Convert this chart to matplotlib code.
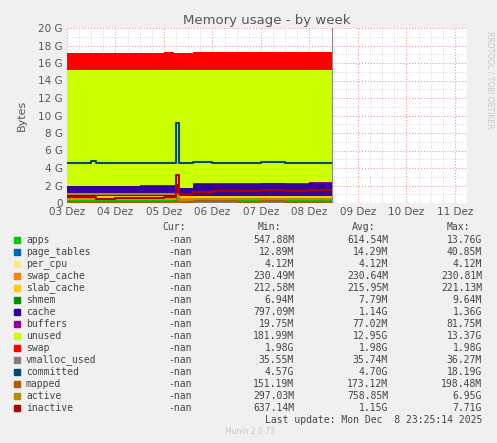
import matplotlib.pyplot as plt
from matplotlib.ticker import MultipleLocator

# time breakpoints (days since 03 Dez 00:00), values in GB
t = [0, 0.5, 0.6, 1.0, 1.5, 2.0, 2.2, 2.25, 2.3, 2.6, 3.0, 3.5, 4.0, 4.5, 5.0, 5.47]
apps =        [0.35, 0.35, 0.30, 0.32, 0.32, 0.32, 0.32, 0.55, 0.28, 0.28, 0.30, 0.30, 0.32, 0.30, 0.30, 0.30]
page_tables = [0.014] * 16
per_cpu =     [0.004] * 16
swap_cache =  [0.23] * 16
slab_cache =  [0.21, 0.21, 0.21, 0.21, 0.21, 0.21, 0.21, 0.22, 0.22, 0.22, 0.22, 0.22, 0.22, 0.22, 0.22, 0.22]
shmem =       [0.008] * 16
cache =       [1.10, 1.10, 1.15, 1.12, 1.18, 1.15, 1.15, 1.15, 0.95, 1.45, 1.45, 1.40, 1.45, 1.45, 1.50, 1.50]
buffers =     [0.08, 0.08, 0.08, 0.08, 0.08, 0.08, 0.08, 0.02, 0.02, 0.08, 0.08, 0.08, 0.08, 0.08, 0.08, 0.08]
unused =      [13.22, 13.22, 13.22, 13.23, 13.17, 13.21, 13.20, 12.99, 13.49, 12.95, 12.93, 12.98, 12.91, 12.94, 12.89, 12.89]
swap =        [1.98] * 16
vmalloc =     [0.036] * 16
committed =   [4.60, 4.75, 4.60, 4.60, 4.60, 4.60, 4.60, 9.20, 4.60, 4.65, 4.60, 4.60, 4.70, 4.55, 4.60, 4.60]
mapped =      [0.17, 0.17, 0.16, 0.17, 0.17, 0.17, 0.17, 0.19, 0.17, 0.18, 0.18, 0.17, 0.18, 0.17, 0.17, 0.17]
active =      [1.00, 1.00, 1.00, 1.00, 1.00, 1.00, 1.00, 1.00, 0.40, 0.45, 0.50, 0.50, 0.50, 0.50, 0.50, 0.50]
inactive =    [0.65, 0.65, 0.45, 0.60, 0.60, 0.65, 0.65, 3.20, 1.00, 1.30, 1.40, 1.40, 1.45, 1.40, 1.45, 1.45]

days = ["03 Dez", "04 Dez", "05 Dez", "06 Dez", "07 Dez", "08 Dez", "09 Dez", "10 Dez", "11 Dez"]
yticks = list(range(0, 21, 2))

names = ["apps", "page_tables", "per_cpu", "swap_cache", "slab_cache", "shmem", "cache",
         "buffers", "unused", "swap", "vmalloc_used", "committed", "mapped", "active", "inactive"]
colors = ["#00CC00", "#0066B3", "#FFE680", "#FF8000", "#FFCC00", "#008F00", "#330099",
          "#990099", "#CCFF00", "#FF0000", "#808080", "#00487D", "#B35A00", "#B38F00", "#B00000"]
mins = ["547.88M", "12.89M", "4.12M", "230.49M", "212.58M", "6.94M", "797.09M", "19.75M",
        "181.99M", "1.98G", "35.55M", "4.57G", "151.19M", "297.03M", "637.14M"]
avgs = ["614.54M", "14.29M", "4.12M", "230.64M", "215.95M", "7.79M", "1.14G", "77.02M",
        "12.95G", "1.98G", "35.74M", "4.70G", "173.12M", "758.85M", "1.15G"]
maxs = ["13.76G", "40.85M", "4.12M", "230.81M", "221.13M", "9.64M", "1.36G", "81.75M",
        "13.37G", "1.98G", "36.27M", "18.19G", "198.48M", "6.95G", "7.71G"]

fig = plt.figure(figsize=(4.97, 4.43), dpi=100, facecolor="#F0F0F0")
ax = fig.add_axes([67 / 497, 1 - 203 / 443, 400 / 497, 175 / 443])
ax.set_facecolor("white")

stack = [apps, page_tables, per_cpu, swap_cache, slab_cache, shmem, cache, buffers, unused, swap]
base = [0.0] * len(t)
for vals, c in zip(stack, colors[:10]):
    top = [b + v for b, v in zip(base, vals)]
    ax.fill_between(t, base, top, step="post", color=c, lw=0, zorder=2)
    base = top

for vals, c in zip([vmalloc, committed, mapped, active, inactive], colors[10:]):
    ax.step(t, vals, where="post", color=c, lw=1.5, zorder=3)

ax.axvline(5.47, color="#888888", lw=0.8, zorder=4)
ax.set_xlim(0, 8.25)
ax.set_ylim(0, 20)
ax.set_xticks(range(9))
ax.set_xticklabels(days)
ax.set_yticks(yticks)
ax.set_yticklabels(["0"] + ["%d G" % v for v in yticks[1:]])
ax.xaxis.set_minor_locator(MultipleLocator(0.25))
ax.yaxis.set_minor_locator(MultipleLocator(1))
ax.grid(which="major", color="#E0A0A0", ls=":", lw=0.8, zorder=5)
ax.grid(which="minor", color="#D0D0D0", ls=":", lw=0.6, zorder=5)
ax.tick_params(which="both", length=0, labelsize=7.5, colors="#555555", pad=3)
for s in ax.spines.values():
    s.set_visible(False)
ax.set_ylabel("Bytes", fontsize=8, color="#555555", labelpad=8)
ax.set_title("Memory usage - by week", fontsize=9.5, color="#555555", pad=3)
fig.text(0.985, 0.93, "RRDTOOL / TOBI OETIKER", rotation=270, fontsize=5.5,
         color="#C8C8C8", va="top", ha="center")

mono = dict(family="DejaVu Sans Mono", fontsize=7, color="#444444")
H = 443
hy = 227
for label, xr in [("Cur:", 186), ("Min:", 281), ("Avg:", 375), ("Max:", 470)]:
    fig.text(xr / 497, 1 - hy / H, label, ha="right", va="center", **mono)
for i, n in enumerate(names):
    y = 1 - (240 + 12 * i) / H
    fig.patches.append(plt.Rectangle((14 / 497, y - 3 / H), 6 / 497, 6 / H,
                                     color=colors[i], transform=fig.transFigure))
    fig.text(26 / 497, y, n, ha="left", va="center", **mono)
    fig.text(192 / 497, y, "-nan", ha="right", va="center", **mono)
    fig.text(294 / 497, y, mins[i], ha="right", va="center", **mono)
    fig.text(388 / 497, y, avgs[i], ha="right", va="center", **mono)
    fig.text(482 / 497, y, maxs[i], ha="right", va="center", **mono)
fig.text(482 / 497, 1 - 420 / H, "Last update: Mon Dec  8 23:25:14 2025",
         ha="right", va="center", **mono)
fig.text(250 / 497, 1 - 432 / H, "Munin 2.0.73", ha="center", va="center",
         fontsize=5.5, color="#C8C8C8")

fig.savefig("out.png", facecolor=fig.get_facecolor())
